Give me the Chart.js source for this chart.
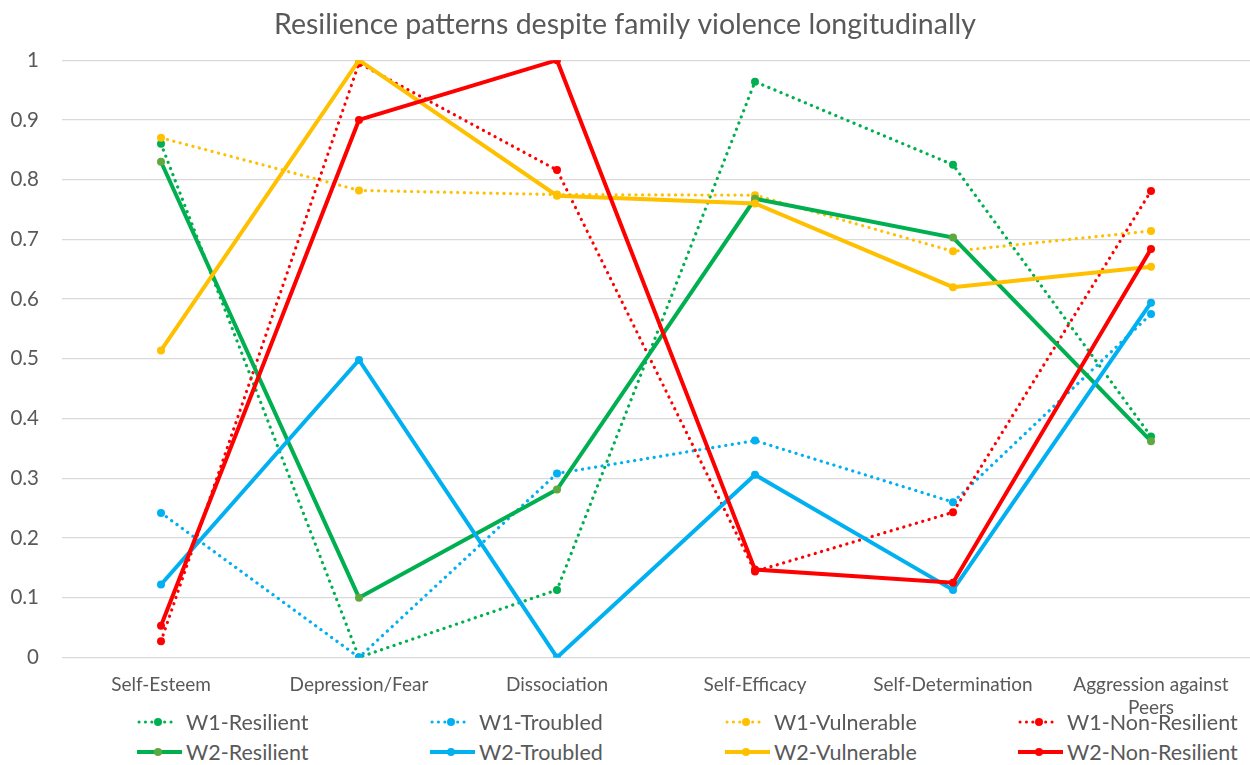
<!DOCTYPE html>
<html>
<head>
<meta charset="utf-8">
<script src="https://cdn.jsdelivr.net/npm/chart.js@4.4.0/dist/chart.umd.min.js"></script>
<style>
	body { margin: 0; background: #fff; }
	#wrap { position: relative; width: 1250px; height: 765px; font-family: Lato, sans-serif; overflow: hidden; }
	/* box is 14px wider than the page so the title centres over the plot like excel */
	#chart-box { position: absolute; left: 0; top: 0; width: 1264px; height: 735px; }
	.legend-item { position: absolute; height: 30px; display: flex; align-items: center; color: #595959; font-size: 21.5px; white-space: nowrap; }
	.legend-item svg { margin-right: 4px; flex: none; }
</style>
</head>
<body>
<div id="wrap">
	<div id="chart-box"><canvas id="chart"></canvas></div>
	<div id="legend"></div>
</div>
<script>
// categories
const categories = ['Self-Esteem', 'Depression/Fear', 'Dissociation', 'Self-Efficacy', 'Self-Determination', ['Aggression against', 'Peers']];

// wave 1 (dotted)
const w1Resilient    = [0.86, 0.00, 0.113, 0.964, 0.825, 0.370];
const w1Troubled     = [0.242, 0.00, 0.308, 0.363, 0.260, 0.575];
const w1Vulnerable   = [0.870, 0.782, 0.775, 0.774, 0.680, 0.714];
const w1NonResilient = [0.027, 0.995, 0.816, 0.144, 0.243, 0.781];

// wave 2 (solid)
const w2Resilient    = [0.830, 0.100, 0.281, 0.768, 0.703, 0.362];
const w2Troubled     = [0.122, 0.498, 0.000, 0.306, 0.113, 0.594];
const w2Vulnerable   = [0.514, 1.000, 0.773, 0.760, 0.620, 0.654];
const w2NonResilient = [0.053, 0.900, 1.000, 0.147, 0.125, 0.684];

const yTicks = [0, 0.1, 0.2, 0.3, 0.4, 0.5, 0.6, 0.7, 0.8, 0.9, 1];

const GREEN = '#00B050', BLUE = '#00B0F0', YELLOW = '#FFC000', RED = '#FF0000';

const series = [
	{ name: 'W1-Resilient', data: w1Resilient, color: GREEN, dotted: true },
	{ name: 'W1-Troubled', data: w1Troubled, color: BLUE, dotted: true },
	{ name: 'W1-Vulnerable', data: w1Vulnerable, color: YELLOW, dotted: true },
	{ name: 'W1-Non-Resilient', data: w1NonResilient, color: RED, dotted: true },
	{ name: 'W2-Resilient', data: w2Resilient, color: GREEN, dotted: false, pointColor: '#5FA83F' },
	{ name: 'W2-Troubled', data: w2Troubled, color: BLUE, dotted: false },
	{ name: 'W2-Vulnerable', data: w2Vulnerable, color: YELLOW, dotted: false },
	{ name: 'W2-Non-Resilient', data: w2NonResilient, color: RED, dotted: false }
];

const datasets = series.map(function(s, i) {
	return {
		label: s.name,
		data: s.data,
		borderColor: s.color,
		backgroundColor: s.pointColor || s.color,
		pointBorderColor: s.pointColor || s.color,
		borderWidth: s.dotted ? 3.2 : 4,
		borderDash: s.dotted ? [0.1, 6.5] : [],
		borderCapStyle: s.dotted ? 'round' : 'butt',
		pointRadius: 4,
		pointBorderWidth: 0,
		tension: 0,
		fill: false,
		order: series.length - i // later series drawn on top, like excel
	};
});

new Chart(document.getElementById('chart'), {
	type: 'line',
	data: { labels: categories, datasets: datasets },
	options: {
		responsive: true,
		maintainAspectRatio: false,
		animation: false,
		layout: { padding: { left: 0, right: 14, top: 0, bottom: 0 } },
		plugins: {
			legend: { display: false },
			tooltip: { enabled: false },
			title: {
				display: true,
				text: 'Resilience patterns despite family violence longitudinally',
				color: '#595959',
				font: { family: 'Lato', size: 28.5, weight: 'normal' },
				padding: { top: 8, bottom: 18 }
			}
		},
		scales: {
			x: {
				offset: true,
				grid: { display: false, drawTicks: false },
				border: { display: false },
				ticks: {
					color: '#595959',
					font: { family: 'Lato', size: 19 },
					padding: 16,
					maxRotation: 0,
					autoSkip: false
				}
			},
			y: {
				min: 0,
				max: 1,
				afterBuildTicks: function(scale) {
					scale.ticks = yTicks.map(function(v) { return { value: v }; });
				},
				afterFit: function(scale) { scale.width = 62; },
				grid: { color: '#D9D9D9', lineWidth: 1.2, drawTicks: false },
				border: { display: false },
				ticks: {
					color: '#595959',
					font: { family: 'Lato', size: 20.5 },
					padding: 23,
					callback: function(v) { return String(Math.round(v * 10) / 10); }
				}
			}
		}
	}
});

// legend drawn as html, 4 columns x 2 rows like the excel one
const legend = document.getElementById('legend');
const colX = [137, 430, 725, 1018];
const rowY = [707, 737];
series.forEach(function(s, i) {
	const item = document.createElement('div');
	item.className = 'legend-item';
	item.style.left = colX[i % 4] + 'px';
	item.style.top = rowY[Math.floor(i / 4)] + 'px';
	const line = s.dotted
		? '<line x1="2" y1="10" x2="40" y2="10" stroke="' + s.color + '" stroke-width="3" stroke-linecap="round" stroke-dasharray="0.1 6.3"/>'
		: '<line x1="0" y1="10" x2="45" y2="10" stroke="' + s.color + '" stroke-width="4"/>';
	item.innerHTML = '<svg width="45" height="20">' + line +
		'<circle cx="21" cy="10" r="4" fill="' + (s.pointColor || s.color) + '"/></svg>' +
		'<span>' + s.name + '</span>';
	legend.appendChild(item);
});
</script>
</body>
</html>
